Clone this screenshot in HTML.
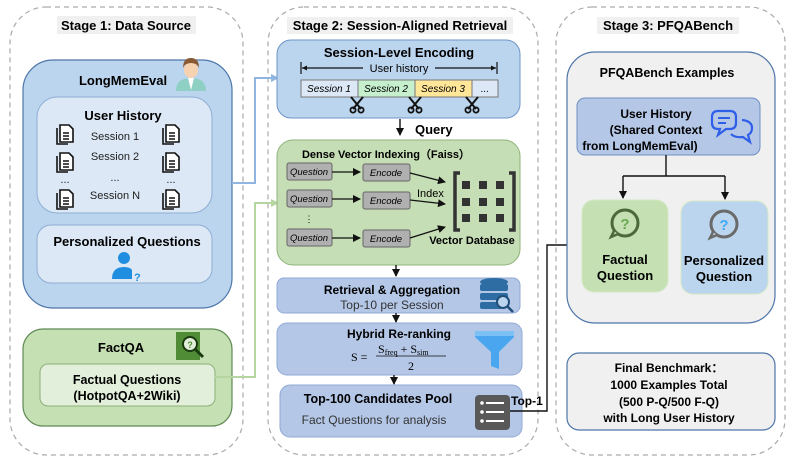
<!DOCTYPE html>
<html><head><meta charset="utf-8"><style>
html,body{margin:0;padding:0;background:#fff;}
svg{display:block;font-family:"Liberation Sans",Arial,sans-serif;}
.b{font-weight:bold;}
</style></head><body>
<svg width="793" height="463" viewBox="0 0 793 463" xmlns="http://www.w3.org/2000/svg">
<defs>
<marker id="ah" markerWidth="8" markerHeight="8" refX="7" refY="4" orient="auto" markerUnits="userSpaceOnUse"><path d="M0,0 L8,4 L0,8 z" fill="#111"/></marker>
<marker id="ahb" markerWidth="8" markerHeight="8" refX="7" refY="4" orient="auto" markerUnits="userSpaceOnUse"><path d="M0,0 L8,4 L0,8 z" fill="#8fb5e0"/></marker>
<marker id="ahg" markerWidth="8" markerHeight="8" refX="7" refY="4" orient="auto" markerUnits="userSpaceOnUse"><path d="M0,0 L8,4 L0,8 z" fill="#b5d6a0"/></marker>
<g id="doc"><path d="M3,2 h9 l4,4 v13 h-13z" fill="#fff" stroke="#111" stroke-width="1.6"/><path d="M0,5 v16 h11" fill="none" stroke="#111" stroke-width="1.6"/><path d="M6,10h6M6,13h6M6,16h6" stroke="#111" stroke-width="1.4"/></g>
<g id="sc"><path d="M-6,-7 L4,5 M6,-7 L-4,5" stroke="#111" stroke-width="2"/><circle cx="-4" cy="6" r="2.6" fill="none" stroke="#111" stroke-width="1.8"/><circle cx="4" cy="6" r="2.6" fill="none" stroke="#111" stroke-width="1.8"/></g>
</defs>

<!-- Stage dashed containers -->
<rect x="10" y="7" width="233" height="448" rx="36" fill="none" stroke="#aaa" stroke-dasharray="5,4" stroke-width="1.2"/>
<rect x="268" y="7" width="270" height="448" rx="36" fill="none" stroke="#aaa" stroke-dasharray="5,4" stroke-width="1.2"/>
<rect x="556" y="7" width="229" height="448" rx="36" fill="none" stroke="#aaa" stroke-dasharray="5,4" stroke-width="1.2"/>
<rect x="57" y="16" width="139" height="18" fill="#f0f0f0"/>
<text x="126" y="30" text-anchor="middle" class="b" font-size="13">Stage 1: Data Source</text>
<rect x="287" y="17" width="226" height="17" fill="#f0f0f0"/>
<text x="400" y="30" text-anchor="middle" class="b" font-size="13">Stage 2: Session-Aligned Retrieval</text>
<rect x="597" y="17" width="142" height="17" fill="#f0f0f0"/>
<text x="668" y="30" text-anchor="middle" class="b" font-size="13">Stage 3: PFQABench</text>

<!-- Stage 1 -->
<rect x="23" y="60" width="209" height="248" rx="30" fill="#bcd5ee" stroke="#4e76a8" stroke-width="1.2"/>
<text x="123" y="85" text-anchor="middle" class="b" font-size="13">LongMemEval</text>
<g>
<path d="M176,91 q0,-13 15,-13 q15,0 15,13z" fill="#8fd0c4"/>
<path d="M188,78 l3,12 l3,-12" fill="#fff"/>
<ellipse cx="191" cy="70" rx="7" ry="8" fill="#f7d2b0"/>
<path d="M183,68 q0,-10 8,-10 q8,0 8,10 q-2,-5 -8,-5 q-6,0 -8,5z" fill="#8a5a35"/>
</g>
<rect x="37" y="97" width="175" height="116" rx="20" fill="#dce8f5" stroke="#8eaed3" stroke-width="1"/>
<text x="123" y="120" text-anchor="middle" class="b" font-size="13">User History</text>
<g font-size="11" fill="#222" text-anchor="middle">
<text x="115" y="140">Session 1</text><text x="115" y="160">Session 2</text>
<text x="115" y="181">...</text><text x="115" y="199">Session N</text>
<text x="65" y="183">...</text><text x="171" y="183">...</text>
</g>
<use href="#doc" x="57" y="123"/><use href="#doc" x="163" y="123"/>
<use href="#doc" x="57" y="151"/><use href="#doc" x="163" y="151"/>
<use href="#doc" x="57" y="188"/><use href="#doc" x="163" y="188"/>
<rect x="37" y="225" width="175" height="58" rx="14" fill="#dce8f5" stroke="#8eaed3" stroke-width="1"/>
<text x="127" y="246" text-anchor="middle" class="b" font-size="13">Personalized Questions</text>
<circle cx="124" cy="258" r="6" fill="#1f8ee0"/>
<path d="M112,279 q0,-12 12,-12 q6,0 8,3 v9z" fill="#1f8ee0"/>
<text x="134" y="281" class="b" font-size="11" fill="#1f8ee0">?</text>

<rect x="23" y="329" width="209" height="97" rx="20" fill="#c5e0b3" stroke="#5f8a55" stroke-width="1.2"/>
<text x="121" y="352" text-anchor="middle" class="b" font-size="13">FactQA</text>
<rect x="176" y="332" width="24" height="28" fill="#4f8c35"/>
<circle cx="190" cy="344" r="7" fill="#e2efda" stroke="#1a3a10" stroke-width="2"/>
<text x="190" y="348" text-anchor="middle" font-size="9" class="b" fill="#4f8c35">?</text>
<path d="M195,349 l8,8" stroke="#1a3a10" stroke-width="3"/>
<rect x="40" y="364" width="175" height="42" rx="8" fill="#e2efda" stroke="#8db07a" stroke-width="1"/>
<text x="127" y="384" text-anchor="middle" class="b" font-size="12.5">Factual Questions</text>
<text x="127" y="400" text-anchor="middle" class="b" font-size="12.5">(HotpotQA+2Wiki)</text>

<!-- connectors stage1 -> stage2 -->
<path d="M232,183 H255 V78 H278" fill="none" stroke="#8fb5e0" stroke-width="2" marker-end="url(#ahb)"/>
<path d="M215,377 H255 V203 H278" fill="none" stroke="#b5d6a0" stroke-width="2" marker-end="url(#ahg)"/>

<!-- Stage 2 -->
<rect x="277" y="40" width="243" height="78" rx="14" fill="#bcd5ee" stroke="#6f95c7" stroke-width="1"/>
<text x="399" y="57" text-anchor="middle" class="b" font-size="13">Session-Level Encoding</text>
<path d="M301,62 v12 M497,62 v12" stroke="#111" stroke-width="1.2"/>
<path d="M302,68 H363 M435,68 H496" stroke="#111" stroke-width="1.2"/>
<path d="M302,68 l5,-2.5 v5z M496,68 l-5,-2.5 v5z" fill="#111"/>
<text x="399" y="72" text-anchor="middle" font-size="11">User history</text>
<rect x="301" y="80" width="57" height="17" fill="#dce8f5" stroke="#777"/>
<rect x="358" y="80" width="57" height="17" fill="#c6efce" stroke="#777"/>
<rect x="415" y="80" width="57" height="17" fill="#ffe699" stroke="#777"/>
<rect x="472" y="80" width="26" height="17" fill="#dce8f5" stroke="#777"/>
<g font-size="10" font-style="italic" text-anchor="middle"><text x="329" y="92">Session 1</text><text x="386" y="92">Session 2</text><text x="443" y="92">Session 3</text><text x="485" y="92">...</text></g>
<use href="#sc" x="357" y="104"/><use href="#sc" x="415" y="104"/><use href="#sc" x="472" y="104"/>
<path d="M400,119 V135" stroke="#111" stroke-width="1.4" marker-end="url(#ah)"/>
<text x="415" y="134" class="b" font-size="13">Query</text>

<rect x="277" y="140" width="243" height="125" rx="16" fill="#c6deb5" stroke="#8fb27a" stroke-width="1"/>
<text x="386" y="158" text-anchor="middle" class="b" font-size="11">Dense Vector Indexing（Faiss）</text>
<g font-size="9.5" font-style="italic" text-anchor="middle">
<rect x="287" y="163" width="45" height="17" rx="2" fill="#b0b0b0" stroke="#666"/><text x="309" y="175">Question</text>
<rect x="287" y="190" width="45" height="17" rx="2" fill="#b0b0b0" stroke="#666"/><text x="309" y="202">Question</text>
<rect x="287" y="229" width="45" height="17" rx="2" fill="#b0b0b0" stroke="#666"/><text x="309" y="241">Question</text>
<rect x="363" y="164" width="47" height="17" rx="2" fill="#b0b0b0" stroke="#666"/><text x="386" y="176">Encode</text>
<rect x="363" y="192" width="47" height="17" rx="2" fill="#b0b0b0" stroke="#666"/><text x="386" y="204">Encode</text>
<rect x="363" y="230" width="47" height="17" rx="2" fill="#b0b0b0" stroke="#666"/><text x="386" y="242">Encode</text>
</g>
<text x="309" y="222" text-anchor="middle" font-size="9">⋮</text>
<g stroke="#111" stroke-width="1.2" fill="none">
<path d="M332,172 H360" marker-end="url(#ah)"/><path d="M332,199 H360" marker-end="url(#ah)"/><path d="M332,238 H360" marker-end="url(#ah)"/>
<path d="M410,173 L445,182" marker-end="url(#ah)"/><path d="M410,200 L445,204" marker-end="url(#ah)"/><path d="M410,238 L445,227" marker-end="url(#ah)"/>
</g>
<text x="417" y="197" font-size="11">Index</text>
<path d="M460,173 h-5 v57 h5 M509,173 h5 v57 h-5" fill="none" stroke="#333" stroke-width="3.5"/>
<g fill="#333">
<rect x="462" y="181" width="8" height="8"/><rect x="479" y="181" width="8" height="8"/><rect x="496" y="181" width="8" height="8"/>
<rect x="462" y="198" width="8" height="8"/><rect x="479" y="198" width="8" height="8"/><rect x="496" y="198" width="8" height="8"/>
<rect x="462" y="214" width="8" height="8"/><rect x="479" y="214" width="8" height="8"/><rect x="496" y="214" width="8" height="8"/>
</g>
<text x="472" y="244" text-anchor="middle" class="b" font-size="11">Vector Database</text>
<path d="M396,265 V276" stroke="#111" stroke-width="1.4" marker-end="url(#ah)"/>

<rect x="277" y="278" width="243" height="35" rx="7" fill="#b4c7e7" stroke="#8fa9d6" stroke-width="1"/>
<text x="392" y="294" text-anchor="middle" class="b" font-size="12">Retrieval &amp; Aggregation</text>
<text x="392" y="309" text-anchor="middle" font-size="12" fill="#333">Top-10 per Session</text>
<g fill="#2e6da4"><ellipse cx="494" cy="282" rx="14" ry="4"/><rect x="480" y="284" width="28" height="7" rx="2"/><rect x="480" y="293" width="28" height="7" rx="2"/><rect x="480" y="302" width="22" height="7" rx="2"/></g>
<circle cx="503" cy="302" r="6" fill="#bcd5ee" stroke="#1f4e79" stroke-width="2"/><path d="M507,306 l6,6" stroke="#1f4e79" stroke-width="2.5"/>
<path d="M396,313 V322" stroke="#111" stroke-width="1.4" marker-end="url(#ah)"/>

<rect x="277" y="323" width="245" height="52" rx="10" fill="#b4c7e7" stroke="#8fa9d6" stroke-width="1"/>
<text x="399" y="338" text-anchor="middle" class="b" font-size="12">Hybrid Re-ranking</text>
<g font-family="Liberation Serif,serif" font-size="12">
<text x="351" y="361">S =</text>
<text x="378" y="353">S<tspan font-size="8" dy="2">freq</tspan><tspan dy="-2"> + S</tspan><tspan font-size="8" dy="2">sim</tspan></text>
<line x1="376" y1="356" x2="446" y2="356" stroke="#111" stroke-width="0.8"/>
<text x="411" y="370" text-anchor="middle">2</text>
</g>
<path d="M475,331 H514 V337 L499,352 V369 L491,366 V352 L475,337z" fill="#4aa7ef"/>
<rect x="475" y="331" width="39" height="5" fill="#7cc1f5"/>
<path d="M394,375 V384" stroke="#111" stroke-width="1.4" marker-end="url(#ah)"/>

<rect x="280" y="385" width="242" height="52" rx="10" fill="#b4c7e7" stroke="#8fa9d6" stroke-width="1"/>
<text x="378" y="403" text-anchor="middle" class="b" font-size="12.5">Top-100 Candidates Pool</text>
<text x="374" y="424" text-anchor="middle" font-size="12" fill="#333">Fact Questions for analysis</text>
<rect x="475" y="395" width="35" height="35" rx="4" fill="#595959"/>
<g fill="#fff"><circle cx="482" cy="403" r="1.8"/><circle cx="482" cy="412" r="1.8"/><circle cx="482" cy="421" r="1.8"/><rect x="486" y="402" width="18" height="2"/><rect x="486" y="411" width="18" height="2"/><rect x="486" y="420" width="18" height="2"/></g>
<text x="511" y="405" class="b" font-size="12">Top-1</text>
<path d="M510,411 H547 V245 H580" fill="none" stroke="#111" stroke-width="1.4" marker-end="url(#ah)"/>

<!-- Stage 3 -->
<rect x="567" y="52" width="208" height="271" rx="28" fill="#f0f0f0" stroke="#4e76a8" stroke-width="1.2"/>
<text x="667" y="77" text-anchor="middle" class="b" font-size="12.5">PFQABench Examples</text>
<rect x="577" y="98" width="183" height="57" rx="8" fill="#b4c7e7" stroke="#6f8fc0" stroke-width="1"/>
<g class="b" font-size="12" text-anchor="middle"><text x="656" y="118">User History</text><text x="656" y="134">(Shared Context</text><text x="640" y="150">from LongMemEval)</text></g>
<path d="M730,111 h-12 q-6,0 -6,6 v6 q0,6 6,6 h2 l-2,6 l8,-6 h4 q6,0 6,-6 v-6 q0,-6 -6,-6z" fill="none" stroke="#2f5fe8" stroke-width="2.2"/>
<path d="M718,118 h12 M718,123 h8" stroke="#2f5fe8" stroke-width="2"/>
<path d="M742,120 q10,1 10,8 q0,5 -4,7 l2,7 l-7,-5 q-8,1 -12,-3" fill="none" stroke="#2f5fe8" stroke-width="2.2"/>
<path d="M666,155 V176 M623,176 H725" stroke="#111" stroke-width="1.4" fill="none"/>
<path d="M623,176 V198" stroke="#111" stroke-width="1.4" marker-end="url(#ah)"/>
<path d="M725,176 V199" stroke="#111" stroke-width="1.4" marker-end="url(#ah)"/>
<rect x="582" y="200" width="86" height="92" rx="12" fill="#c5e0b3" stroke="#d4e8c6" stroke-width="1"/>
<circle cx="625" cy="223" r="13" fill="none" stroke="#4a6a3a" stroke-width="3"/>
<path d="M614,231 l-3,6 l7,-3" fill="#c5e0b3" stroke="#4a6a3a" stroke-width="2.5"/>
<text x="625" y="229" text-anchor="middle" class="b" font-size="15" fill="#6aa84f">?</text>
<text x="625" y="264" text-anchor="middle" class="b" font-size="13">Factual</text>
<text x="625" y="280" text-anchor="middle" class="b" font-size="13">Question</text>
<rect x="681" y="201" width="87" height="93" rx="12" fill="#bcd5ee" stroke="#d4e8c6" stroke-width="1"/>
<circle cx="724" cy="224" r="13" fill="none" stroke="#6a6a6a" stroke-width="3"/>
<path d="M713,232 l-3,6 l7,-3" fill="#bcd5ee" stroke="#6a6a6a" stroke-width="2.5"/>
<text x="724" y="230" text-anchor="middle" class="b" font-size="15" fill="#3fa9f5">?</text>
<text x="724" y="265" text-anchor="middle" class="b" font-size="13">Personalized</text>
<text x="724" y="281" text-anchor="middle" class="b" font-size="13">Question</text>

<rect x="567" y="353" width="208" height="77" rx="12" fill="#f0f0f0" stroke="#4e76a8" stroke-width="1.2"/>
<g class="b" font-size="12" text-anchor="middle"><text x="669" y="372">Final Benchmark：</text><text x="669" y="389">1000 Examples Total</text><text x="669" y="406">(500 P-Q/500 F-Q)</text><text x="669" y="422">with Long User History</text></g>
</svg>
</body></html>
